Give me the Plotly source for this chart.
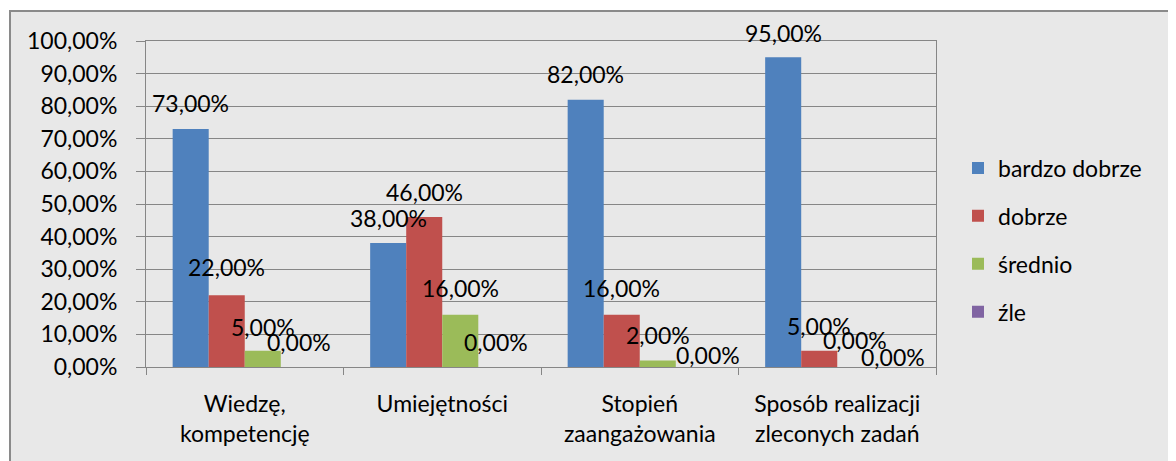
import plotly.graph_objects as go

categories = ["Wiedzę,<br>kompetencję", "Umiejętności", "Stopień<br>zaangażowania", "Sposób realizacji<br>zleconych zadań"]
series_names = ["bardzo dobrze", "dobrze", "średnio", "źle"]
bardzo_dobrze = [73, 38, 82, 95]
dobrze = [22, 46, 16, 5]
srednio = [5, 16, 2, 0]
zle = [0, 0, 0, 0]
y_ticks = [0, 10, 20, 30, 40, 50, 60, 70, 80, 90, 100]

colors = ["#4F81BD", "#C0504D", "#9BBB59", "#8064A2"]
series_values = [bardzo_dobrze, dobrze, srednio, zle]
# vertical offset (px) of each data label above its bar top
label_dy = [
    [26, 25, 26, 24],
    [28, 25, 27, 25],
    [24, 27, 25, 27],
    [25, 25, 12, 10],
]
label_dx = [
    [0, 0, 0, 0],
    [0, 0, 0, 0],
    [0, 0, 0, 0],
    [0, 0, 14, 2],
]

OFF = 8  # page body margin
W, H = 1176, 461
ML, MT = 146 - OFF, 41 - OFF
MR = W - (936 - OFF)
MB = H - (367 - OFF)
plot_w = W - ML - MR
plot_h = H - MT - MB
bargap = 0.27
cat_px = plot_w / len(categories)
bar_px = cat_px * (1 - bargap) / len(series_names)

fig = go.Figure()
for i, (name, vals) in enumerate(zip(series_names, series_values)):
    fig.add_trace(go.Bar(
        x=categories, y=[v / 100 for v in vals], name=name,
        marker=dict(color=colors[i], line=dict(width=0)),
        legendgroup=name,
    ))

annotations = []
for i, vals in enumerate(series_values):
    for j, v in enumerate(vals):
        annotations.append(dict(
            x=categories[j], y=v / 100, xref="x", yref="y",
            text=f"{v:.2f}%".replace(".", ","),
            showarrow=False,
            xshift=(i - 1.5) * bar_px + label_dx[i][j],
            yshift=label_dy[i][j],
            font=dict(family="Lato", size=23, color="black"),
            xanchor="center", yanchor="middle",
        ))

def px_to_paper_x(px):
    return (px - OFF - ML) / plot_w

def px_to_paper_y(py):
    return (H - MB - (py - OFF)) / plot_h

fig.update_layout(
    width=W, height=H,
    margin=dict(l=ML, r=MR, t=MT, b=MB, pad=0),
    barmode="group", bargap=bargap, bargroupgap=0,
    paper_bgcolor="white", plot_bgcolor="white",
    separators=", ",
    font=dict(family="Lato", size=23, color="black"),
    xaxis=dict(
        type="category", showline=True, linecolor="#868686", linewidth=1,
        ticks="outside", tickson="boundaries", ticklen=7, tickcolor="#868686",
        showgrid=False, tickfont=dict(size=23, color="black"),
        mirror=True, ticklabelstandoff=16,
    ),
    yaxis=dict(
        range=[0, 1], tickvals=[t / 100 for t in y_ticks], tickformat=".2%",
        showline=True, linecolor="#868686", linewidth=1, mirror=True,
        ticks="outside", ticklen=9, tickcolor="#868686",
        showgrid=True, gridcolor="#868686", gridwidth=1,
        tickfont=dict(size=23, color="black"), zeroline=False,
        ticklabelstandoff=14,
    ),
    legend=dict(
        x=px_to_paper_x(958), xanchor="left",
        y=px_to_paper_y(240), yanchor="middle",
        font=dict(size=23, color="black"),
        bgcolor="rgba(0,0,0,0)", tracegroupgap=15,
        itemwidth=30,
    ),
    annotations=annotations,
    shapes=[dict(
        type="rect", xref="paper", yref="paper", layer="below",
        x0=px_to_paper_x(10), x1=px_to_paper_x(W + 20),
        y0=px_to_paper_y(H + 20), y1=px_to_paper_y(11),
        fillcolor="#e8e8e8", line=dict(color="#8a8a8a", width=2),
    )],
)

fig.write_html("out.html")
